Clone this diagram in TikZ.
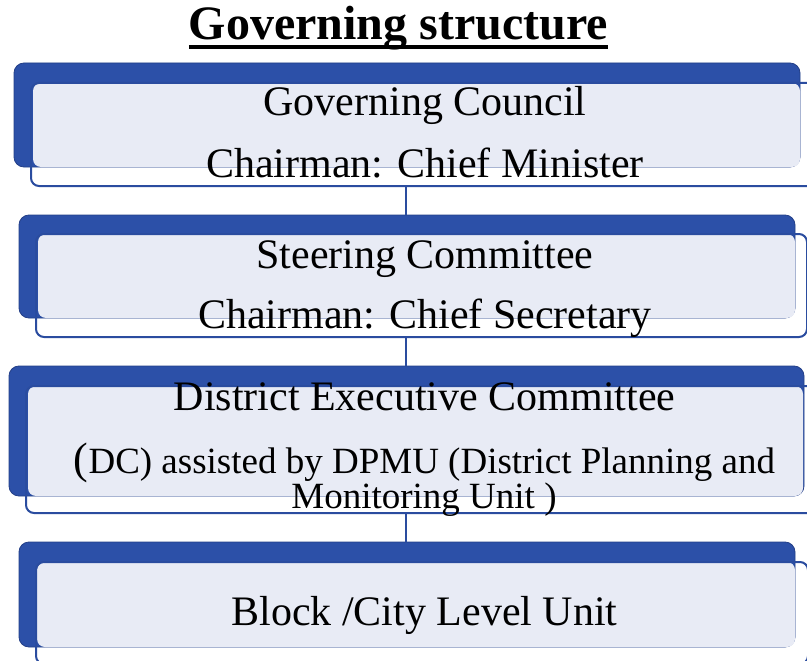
\documentclass[tikz,border=0pt]{standalone}
\usepackage{fontspec}
\setmainfont{Liberation Serif}
\usetikzlibrary{fit}
\definecolor{backblue}{HTML}{2C50A8}
\definecolor{backedge}{HTML}{233F88}
\definecolor{lightfill}{HTML}{E8EBF5}
\definecolor{lineblue}{HTML}{2A4C9F}
\tikzset{
  backbox/.style={rectangle, rounded corners=10pt, fill=backblue, draw=backedge, line width=0.8pt, inner sep=0pt},
  lightbox/.style={rectangle, rounded corners=8pt, fill=lightfill, inner sep=0pt},
  outlinebox/.style={rectangle, rounded corners=8pt, draw=lineblue, line width=2pt, inner sep=0pt},
  connector/.style={draw=lineblue, line width=1.8pt},
  bigtext/.style={anchor=base, inner sep=0pt, font=\fontsize{42}{50}\selectfont},
  midtext/.style={anchor=base, inner sep=0pt, font=\fontsize{37}{44}\selectfont},
}
\begin{document}
\begin{tikzpicture}[x=1pt,y=-1pt]
\useasboundingbox (0,0) rectangle (807,661);
\clip (0,0) rectangle (807,661);
\fill[white] (0,0) rectangle (807,661);

% title
\node[anchor=base, inner sep=0pt, font=\fontsize{48}{56}\selectfont\bfseries] (title) at (398.5,40) {Governing structure};
\draw[line width=3.5pt] ([yshift=-7pt]title.base west) -- ([yshift=-7pt]title.base east);

% level 1
\node[backbox, fit={(14,63) (800,167)}] (b1) {};
\node[lightbox, fit={(33,83) (800,167)}] (l1) {};
\node[outlinebox, fit={(31,83) (819,186)}] (o1) {};
\node[bigtext] (t1a) at (425,116) {Governing Council};
\node[bigtext] (t1b) at (425,177) {Chairman: Chief Minister};

% level 2
\node[backbox, fit={(19,215) (795,318)}] (b2) {};
\node[lightbox, fit={(38,234) (795,318)}] (l2) {};
\node[outlinebox, fit={(36,234) (807,337)}] (o2) {};
\node[bigtext] (t2a) at (425,268) {Steering Committee};
\node[bigtext] (t2b) at (425,328) {Chairman: Chief Secretary};

% level 3
\node[backbox, fit={(9,366) (804,496)}] (b3) {};
\node[lightbox, fit={(28,386) (803,496)}] (l3) {};
\node[outlinebox, fit={(26,386) (819,513)}] (o3) {};
\node[bigtext] (t3a) at (424.5,410) {District Executive Committee};
\node[midtext] (t3b) at (424.5,473) {{\fontsize{44}{50}\selectfont(}DC) assisted by DPMU (District Planning and};
\node[midtext] (t3c) at (424,508) {Monitoring Unit )};

% level 4
\node[backbox, fit={(19,542) (795,647)}] (b4) {};
\node[lightbox, fit={(37,562) (795,647)}] (l4) {};
\node[outlinebox, fit={(36,562) (808,664)}] (o4) {};
\node[bigtext] (t4a) at (424.5,625) {Block /City Level Unit};

% connectors
\draw[connector] (o1.south -| 406,0) -- (b2.north -| 406,0);
\draw[connector] (o2.south -| 406,0) -- (b3.north -| 406,0);
\draw[connector] (o3.south -| 406,0) -- (b4.north -| 406,0);
\end{tikzpicture}
\end{document}
